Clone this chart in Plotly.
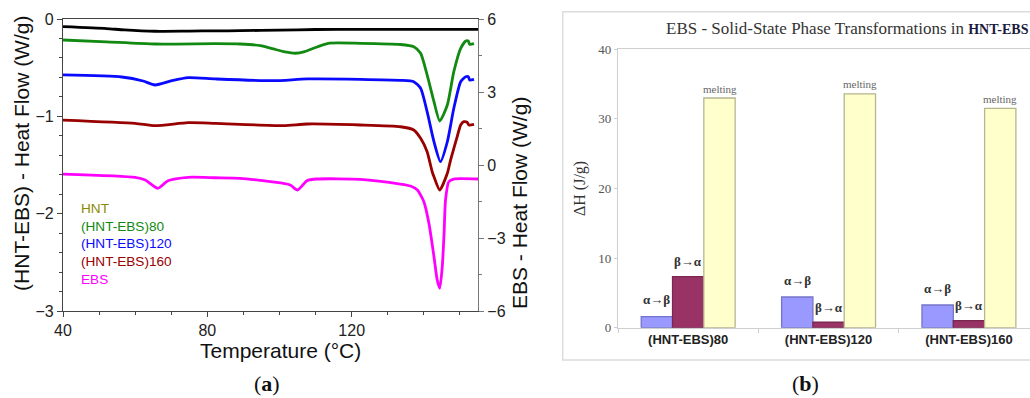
import plotly.graph_objects as go

# ---------------- (a) DSC heating curves ----------------
# HNT
t_hnt = [40, 52, 57, 65.5, 75, 82.2, 89.1, 100, 110, 122.4, 135, 145, 155]
hf_hnt = [-0.079, -0.098, -0.112, -0.126, -0.124, -0.122, -0.120, -0.114, -0.108, -0.106, -0.106, -0.106, -0.106]

# (HNT-EBS)80
t_80 = [40, 52, 65.5, 82.2, 89.1, 94.7, 98.3, 101.5, 104.4, 107, 109.4, 113.5, 122.4, 133.5,
        137.2, 139.1, 140.9, 142.8, 144.4, 146.5, 148.3, 150.2, 151.6, 152.3, 152.7, 153.9]
hf_80 = [-0.216, -0.235, -0.257, -0.254, -0.257, -0.274, -0.308, -0.338, -0.352, -0.335, -0.301,
         -0.250, -0.250, -0.262, -0.285, -0.352, -0.575, -0.850, -1.048, -0.884, -0.541, -0.301,
         -0.226, -0.226, -0.260, -0.254]

# (HNT-EBS)120
t_120 = [40, 56.3, 62.2, 65.5, 70.2, 74.7, 82.2, 98.3, 107.7, 122.4, 133.5, 137.2, 139.1,
         140.9, 142.8, 144.6, 146.5, 148.3, 150.2, 151.6, 152.3, 152.7, 153.9]
hf_120 = [-0.575, -0.596, -0.637, -0.678, -0.634, -0.603, -0.616, -0.634, -0.616, -0.620, -0.630,
          -0.644, -0.712, -0.952, -1.261, -1.466, -1.261, -0.917, -0.644, -0.593, -0.593, -0.627,
          -0.620]

# (HNT-EBS)160
t_160 = [40, 60.0, 65.5, 74.7, 82.2, 101.1, 107.7, 122.4, 133.5, 137.2, 139.1, 140.9, 142.3,
         142.8, 144.4, 146.5, 147.4, 148.3, 149.3, 150.2, 151.1, 152.0, 152.5, 153.9]
hf_160 = [-1.038, -1.072, -1.096, -1.065, -1.072, -1.096, -1.079, -1.089, -1.107, -1.140, -1.226,
          -1.363, -1.569, -1.620, -1.757, -1.585, -1.449, -1.330, -1.200, -1.089, -1.055, -1.061,
          -1.089, -1.082]

# EBS (right axis)
t_ebs = [40, 60.0, 62.8, 66.3, 69.1, 74.7, 82.2, 89.1, 101.1, 103.0, 105.0, 107.6, 110.4, 122.4,
         133.5, 136.3, 138.2, 140.0, 141.4, 142.8, 143.7, 144.4, 145.1, 145.6, 146.0, 146.9,
         148.3, 155]
hf_ebs = [-0.371, -0.506, -0.617, -0.958, -0.646, -0.506, -0.523, -0.547, -0.753, -0.823, -1.028,
          -0.646, -0.576, -0.588, -0.782, -0.864, -1.028, -1.509, -2.397, -3.770, -4.727, -5.069,
          -4.181, -2.808, -1.439, -0.687, -0.576, -0.576]

curve_names = ["HNT", "(HNT-EBS)80", "(HNT-EBS)120", "(HNT-EBS)160", "EBS"]
curve_colors = ["#000000", "#128a12", "#0a0aff", "#990000", "#ff00ff"]
label_colors = ["#8a8a00", "#128a12", "#0a0aff", "#990000", "#ff00ff"]

# ---------------- (b) transformation enthalpies ----------------
samples = ["(HNT-EBS)80", "(HNT-EBS)120", "(HNT-EBS)160"]
dh_alpha_beta = [1.58, 4.41, 3.26]
dh_beta_alpha = [7.33, 0.78, 1.0]
dh_melting = [33.0, 33.6, 31.5]
bar_labels = ["α→β", "β→α", "melting"]

SANS = "Liberation Sans, Arial, sans-serif"
SERIF = "Liberation Serif, Times New Roman, serif"

fig = go.Figure()

series = [(t_hnt, hf_hnt), (t_80, hf_80), (t_120, hf_120), (t_160, hf_160)]
for (t, hf), name, col in zip(series, curve_names[:4], curve_colors[:4]):
    fig.add_trace(go.Scatter(x=t, y=hf, name=name, mode="lines",
                             line=dict(color=col, width=2.8, shape="spline", smoothing=0.6),
                             xaxis="x", yaxis="y", showlegend=False))
fig.add_trace(go.Scatter(x=t_ebs, y=hf_ebs, name="EBS", mode="lines",
                         line=dict(color=curve_colors[4], width=2.8, shape="spline", smoothing=0.6),
                         xaxis="x", yaxis="y2", showlegend=False))

bar_fill = ["#9999ff", "#993366", "#ffffcc"]
bar_edge = ["#7474c8", "#7a2850", "#b5b590"]
bar_values = [dh_alpha_beta, dh_beta_alpha, dh_melting]
for vals, lab, fc, ec in zip(bar_values, bar_labels, bar_fill, bar_edge):
    fig.add_trace(go.Bar(x=samples, y=vals, name=lab, marker=dict(color=fc, line=dict(color=ec, width=1.3)),
                         xaxis="x3", yaxis="y3", showlegend=False))


def paper_text(text, px, py, size, family=SANS, color="#111", angle=0, xanchor="center"):
    """Text placed by pixel position on the 1030x398 canvas."""
    return dict(text=text, x=px / 1030, y=1 - py / 398, xref="paper", yref="paper",
                xanchor=xanchor, yanchor="middle", textangle=angle, showarrow=False,
                font=dict(family=family, size=size, color=color))


annotations = []
# curve labels
label_y = [208, 226, 243.5, 261, 279]
for name, col, yy in zip(curve_names, label_colors, label_y):
    annotations.append(paper_text(name, 79.3, yy, 13.6, color=col, xanchor="left"))

annotations += [
    paper_text("(HNT-EBS) - Heat Flow (W/g)", 21.5, 153.4, 21, angle=-90),
    paper_text("EBS - Heat Flow (W/g)", 519, 203, 21, angle=-90),
    paper_text("Temperature (°C)", 280.5, 350, 21),
    paper_text("(<b>a</b>)", 266.7, 383, 22, family=SERIF),
    paper_text("(<b>b</b>)", 805, 383, 22, family=SERIF),
    paper_text("EBS - Solid-State Phase Transformations in "
               "<b><span style='font-size:14px;color:#1a1a40'>HNT-EBS</span></b>",
               664, 28.3, 17, family=SERIF, color="#333", xanchor="left"),
    paper_text("ΔH (J/g)", 580, 189, 16, family=SERIF, color="#333", angle=-90),
]
# bar labels, placed over each bar from its own value
label_shift = [(-31.4, 17, 13, "#333", True), (0, 15, 13, "#333", True), (31.4, 9.5, 11, "#666", False)]
for vals, lab, (dx, dy, fs, col, bold) in zip(bar_values, bar_labels, label_shift):
    for s, v in zip(samples, vals):
        annotations.append(dict(text=f"<b>{lab}</b>" if bold else lab, x=s, y=v, xref="x3", yref="y3",
                                xshift=dx, yshift=dy, showarrow=False, xanchor="center", yanchor="middle",
                                font=dict(family=SERIF, size=fs, color=col)))

axis_a = dict(showgrid=False, zeroline=False, showline=True, linecolor="#444", linewidth=1.2,
              ticks="outside", ticklen=5, tickcolor="#444", tickwidth=1.2, automargin=False,
              tickfont=dict(family=SANS, size=16, color="#222"))

fig.update_layout(
    width=1030, height=398, autosize=False,
    margin=dict(l=0, r=0, t=0, b=0, pad=0),
    paper_bgcolor="white", plot_bgcolor="white",
    barmode="group", bargap=0.331, bargroupgap=0,
    xaxis=dict(axis_a, domain=[63 / 1030, 478 / 1030], range=[40, 155], tickvals=[40, 80, 120],
               mirror=True, anchor="y",
               minor=dict(dtick=10, tick0=40, ticks="outside", ticklen=3, tickcolor="#444")),
    yaxis=dict(axis_a, domain=[1 - 311 / 398, 1 - 19 / 398], range=[-3, 0], dtick=1, anchor="x",
               minor=dict(dtick=0.2, ticks="outside", ticklen=3, tickcolor="#444")),
    yaxis2=dict(axis_a, overlaying="y", side="right", range=[-6, 6], dtick=3, anchor="x",
                linecolor="#777", tickcolor="#777",
                minor=dict(dtick=1.5, ticks="outside", ticklen=3, tickcolor="#777")),
    xaxis3=dict(domain=[618 / 1030, 1.0], range=[-0.5, 2.435], type="category", anchor="y3",
                showgrid=False, zeroline=False, showline=True, mirror=True, linecolor="#cfcfcf",
                linewidth=1.3, ticks="outside", tickson="boundaries", ticklen=4, tickcolor="#cfcfcf",
                automargin=False,
                tickfont=dict(family=SANS, size=13, color="#222", weight="bold")),
    yaxis3=dict(domain=[1 - 327.7 / 398, 1 - 49.3 / 398], range=[0, 40], dtick=10, anchor="x3",
                showgrid=False, zeroline=False, showline=True, linecolor="#cfcfcf", linewidth=1.3,
                ticks="outside", ticklen=3, tickcolor="#cfcfcf", automargin=False,
                tickfont=dict(family=SERIF, size=13, color="#555")),
    annotations=annotations,
    shapes=[dict(type="rect", xref="paper", yref="paper", x0=562.7 / 1030, x1=1.05,
                 y0=1 - 360 / 398, y1=1 - 11.7 / 398, line=dict(color="#dcdcdc", width=1.5),
                 layer="below")],
)

fig.write_html("out.html")
